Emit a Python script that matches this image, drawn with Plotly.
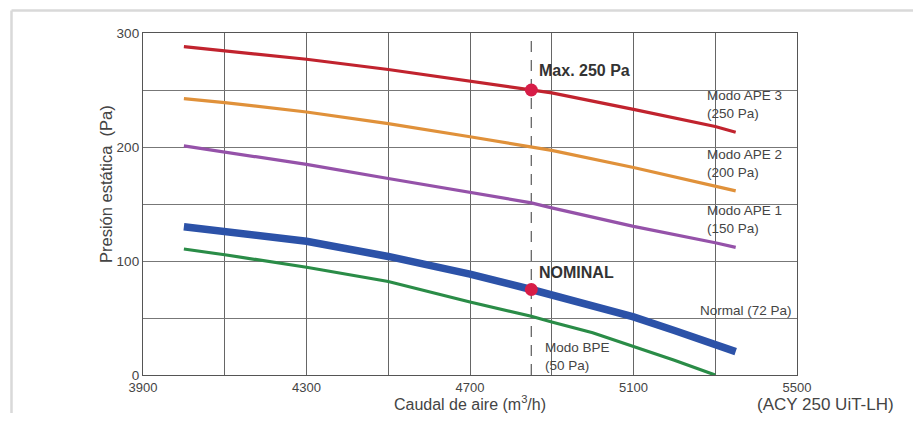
import plotly.graph_objects as go

# ---- data ----
caudal = [4000, 4100, 4300, 4500, 4700, 4850, 4900, 5100, 5300, 5350]
ape3 = [288, 284.5, 277, 268, 257.5, 250, 247.5, 233, 218, 213]
ape2 = [242.5, 239, 230.7, 220.5, 209, 200.5, 197, 182, 166, 161.5]
ape1 = [201, 195.5, 184.7, 172.4, 160, 151, 146.6, 130.4, 116, 112]

caudal_normal = [4000, 4100, 4300, 4500, 4700, 4850, 4900, 5100, 5200, 5350]
normal = [130, 126, 117.3, 104, 88.5, 75, 70.5, 51, 39, 20.5]

caudal_bpe = [4000, 4100, 4300, 4500, 4700, 4850, 4900, 5000, 5100, 5200, 5300]
bpe = [110.5, 105.5, 94.5, 82, 64, 51.5, 46.5, 37, 25, 13, 0]

nominal_x = 4850
points_y = [250, 75]
point_labels = ["Max. 250 Pa", "NOMINAL"]

series_names = ["Modo APE 3<br>(250 Pa)", "Modo APE 2<br>(200 Pa)", "Modo APE 1<br>(150 Pa)",
                "Normal (72 Pa)", "Modo BPE<br>(50 Pa)"]

x_ticks = [3900, 4300, 4700, 5100, 5500]
y_ticks = [0, 100, 200, 300]

# ---- styling ----
OFF = 8  # page body margin
W, H = 921 - 2 * OFF, 421 - 2 * OFF
L, R, T, B = 143 - OFF, 921 - 797 - OFF, 33 - OFF, 421 - 375 - OFF
PW, PH = W - L - R, H - T - B
FONT = "Liberation Sans, Arial, sans-serif"
TXT = "#444444"

fig = go.Figure()

# dashed nominal line
fig.add_trace(go.Scatter(x=[nominal_x, nominal_x], y=[0, 295], mode="lines",
                         line=dict(color="#666666", width=1.3, dash="11px,8px"),
                         hoverinfo="skip", showlegend=False))

curves = [
    (caudal, ape3, "#c1232e", 3.2),
    (caudal, ape2, "#e0913a", 3.2),
    (caudal, ape1, "#9552a9", 3.2),
    (caudal_normal, normal, "#2c52a8", 7.5),
    (caudal_bpe, bpe, "#2a8c47", 3.2),
]
for xs, ys, col, w in curves:
    fig.add_trace(go.Scatter(x=xs, y=ys, mode="lines", line=dict(color=col, width=w),
                             showlegend=False, hoverinfo="skip"))

fig.add_trace(go.Scatter(x=[nominal_x] * len(points_y), y=points_y, mode="markers",
                         marker=dict(color="#d71d47", size=13), showlegend=False,
                         hoverinfo="skip"))

# labels for points
fig.add_annotation(x=4865, y=267, text="<b>" + point_labels[0] + "</b>", showarrow=False,
                   xanchor="left", yanchor="middle", font=dict(family=FONT, size=16, color="#333333"))
fig.add_annotation(x=4863, y=89.5, text="<b>" + point_labels[1] + "</b>", showarrow=False,
                   xanchor="left", yanchor="middle", font=dict(family=FONT, size=16, color="#333333"))

# series labels
label_pos = [(5274, 237.5), (5274, 185.6), (5274, 136.3), (5257, 56.3), (4878, 15.8)]
for name, (lx, ly) in zip(series_names, label_pos):
    fig.add_annotation(x=lx, y=ly, text=name, showarrow=False, xanchor="left", yanchor="middle",
                       align="left", font=dict(family=FONT, size=13.5, color=TXT))

# outer frame (light gray)
x_left = (11.5 - 143) / PW
y_top = (375 - 10.5) / PH
x_right = (925 - 143) / PW
y_bot = (375 - 425) / PH
fig.add_shape(type="line", xref="paper", yref="paper", x0=x_left, x1=x_right, y0=y_top, y1=y_top,
              line=dict(color="#d9d9d9", width=2.5))
fig.add_shape(type="line", xref="paper", yref="paper", x0=x_left, x1=x_left, y0=y_top, y1=y_bot,
              line=dict(color="#d9d9d9", width=2.5))

# model label
fig.add_annotation(xref="paper", yref="paper", x=(825 - 143) / PW, y=(375 - 404) / PH,
                   text="(ACY 250 UiT-LH)", showarrow=False, xanchor="center", yanchor="middle",
                   font=dict(family=FONT, size=17, color=TXT))

# y axis title (placed as annotation to match offset position)
fig.add_annotation(xref="paper", yref="paper", x=(106 - 143) / PW, y=(375 - 184) / PH,
                   text="Presión estática  (Pa)", textangle=-90, showarrow=False,
                   xanchor="center", yanchor="middle",
                   font=dict(family=FONT, size=16.5, color=TXT))

fig.update_xaxes(range=[3900, 5500], tickvals=x_ticks, ticktext=[str(v) for v in x_ticks],
                 showgrid=True, gridcolor="#666666", gridwidth=1.2,
                 minor=dict(dtick=200, tick0=3900, showgrid=True, gridcolor="#666666", gridwidth=1.2),
                 showline=True, linecolor="#555555", linewidth=1.3, mirror=True,
                 ticks="", zeroline=False, automargin=False,
                 tickfont=dict(family=FONT, size=13, color=TXT),
                 title=dict(text="Caudal de aire (m<sup>3</sup>/h)", standoff=2,
                            font=dict(family=FONT, size=16, color=TXT)))
fig.update_yaxes(range=[0, 300], tickvals=y_ticks,
                 showgrid=True, gridcolor="#777777", gridwidth=1.2,
                 minor=dict(dtick=50, tick0=0, showgrid=True, gridcolor="#777777", gridwidth=1.2),
                 showline=True, linecolor="#555555", linewidth=1.3, mirror=True,
                 ticks="", zeroline=False, automargin=False,
                 tickfont=dict(family=FONT, size=13.5, color=TXT))

fig.update_layout(width=W, height=H, margin=dict(l=L, r=R, t=T, b=B, autoexpand=False),
                  paper_bgcolor="white", plot_bgcolor="white", showlegend=False)

fig.write_html("out.html")
